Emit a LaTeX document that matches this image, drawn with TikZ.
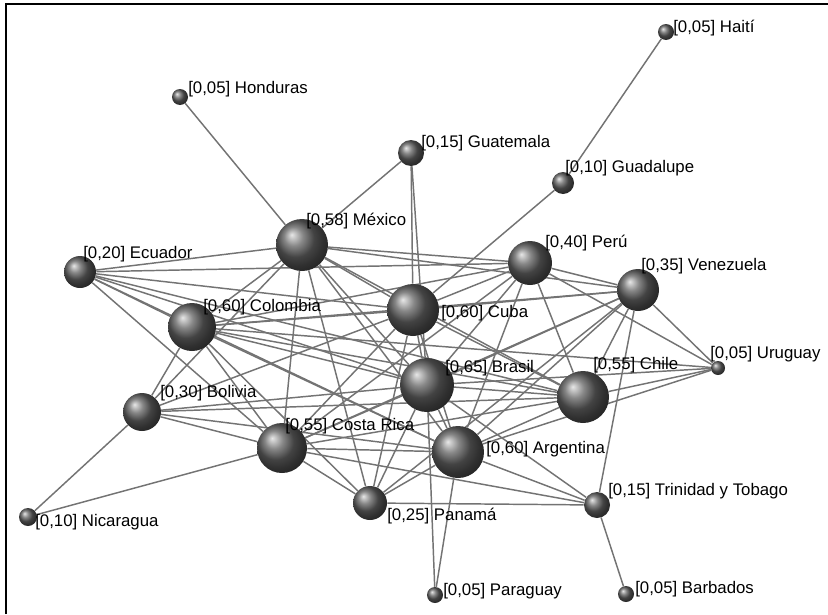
\documentclass[tikz,border=0pt]{standalone}
\usepackage{fontspec}
\setmainfont{Liberation Sans}
\usetikzlibrary{backgrounds}
\begin{document}
\begin{tikzpicture}[x=0.75pt,y=-0.75pt,
  sph/.style={circle,inner sep=0pt,minimum size=1.5pt*#1,ball color=gray!75!black},
  lab/.style={anchor=base west,inner sep=0pt,font=\fontsize{12.6}{14}\selectfont},
  edge/.style={draw=black!55,line width=1.1pt}]
\useasboundingbox (0,0) rectangle (828,614);
\draw[line width=1.5pt] (6,614) -- (6,4) -- (828,4);
% nodes
\node[sph=8]  (hon) at (180,97) {};
\node[sph=8]  (hai) at (666,32) {};
\node[sph=13] (gua) at (411,153) {};
\node[sph=11] (gdl) at (563,183) {};
\node[sph=26] (mex) at (302,245) {};
\node[sph=16] (ecu) at (80,272) {};
\node[sph=22] (per) at (530,263) {};
\node[sph=21] (ven) at (638,290) {};
\node[sph=24] (col) at (192,327) {};
\node[sph=26] (cub) at (413,310) {};
\node[sph=27] (bra) at (427,385) {};
\node[sph=26] (chi) at (583,397) {};
\node[sph=7]  (uru) at (718,368) {};
\node[sph=19] (bol) at (142,412) {};
\node[sph=25] (cr)  at (282,448) {};
\node[sph=26] (arg) at (458,452) {};
\node[sph=13] (tri) at (597,505) {};
\node[sph=17] (pan) at (370,503) {};
\node[sph=9]  (nic) at (28,517) {};
\node[sph=8]  (par) at (435,595) {};
\node[sph=8]  (bar) at (626,594) {};
% edges
\begin{pgfonlayer}{background}
\foreach \a/\b in {hon/mex,hai/gdl,gdl/cub,gua/mex,gua/cub,gua/bra,nic/bol,nic/cr,par/bra,par/arg,bar/tri,
  ecu/mex,ecu/col,ecu/cub,ecu/per,ecu/bra,ecu/chi,ecu/cr,ecu/arg,
  mex/per,mex/ven,mex/cub,mex/col,mex/bra,mex/cr,mex/arg,mex/chi,mex/pan,mex/bol,
  col/cub,col/per,col/ven,col/bra,col/chi,col/arg,col/cr,col/bol,col/pan,col/uru,
  cub/per,cub/ven,cub/bra,cub/chi,cub/arg,cub/cr,cub/pan,cub/bol,
  per/ven,per/bra,per/chi,per/arg,per/cr,per/uru,
  ven/bra,ven/chi,ven/arg,ven/cr,ven/tri,ven/uru,ven/pan,
  bra/uru,bra/chi,bra/arg,bra/cr,bra/bol,bra/pan,bra/tri,
  chi/uru,chi/arg,chi/cr,chi/bol,
  arg/tri,arg/pan,arg/cr,arg/uru,
  cr/pan,cr/tri,cr/bol,pan/tri,bol/arg}
  \draw[edge] (\a) -- (\b);
\end{pgfonlayer}
% labels
\node[lab] (lhon) at (188,93)  {[0,05] Honduras};
\node[lab] (lhai) at (673,32)  {[0,05] Haití};
\node[lab] (lgua) at (421,147) {[0,15] Guatemala};
\node[lab] (lgdl) at (565,172) {[0,10] Guadalupe};
\node[lab] (lmex) at (306,225) {[0,58] México};
\node[lab] (lecu) at (83,258)  {[0,20] Ecuador};
\node[lab] (lper) at (545,247) {[0,40] Perú};
\node[lab] (lven) at (641,270) {[0,35] Venezuela};
\node[lab] (lcol) at (203,311) {[0,60] Colombia};
\node[lab] (lcub) at (441,317) {[0,60] Cuba};
\node[lab] (lbra) at (445,372) {[0,65] Brasil};
\node[lab] (lchi) at (593,369) {[0,55] Chile};
\node[lab] (luru) at (710,358) {[0,05] Uruguay};
\node[lab] (lbol) at (160,397) {[0,30] Bolivia};
\node[lab] (lcr)  at (285,430) {[0,55] Costa Rica};
\node[lab] (larg) at (486,453) {[0,60] Argentina};
\node[lab] (ltri) at (608,495) {[0,15] Trinidad y Tobago};
\node[lab] (lpan) at (387,520) {[0,25] Panamá};
\node[lab] (lnic) at (35,526)  {[0,10] Nicaragua};
\node[lab] (lpar) at (443,595) {[0,05] Paraguay};
\node[lab] (lbar) at (635,593) {[0,05] Barbados};
\end{tikzpicture}
\end{document}
